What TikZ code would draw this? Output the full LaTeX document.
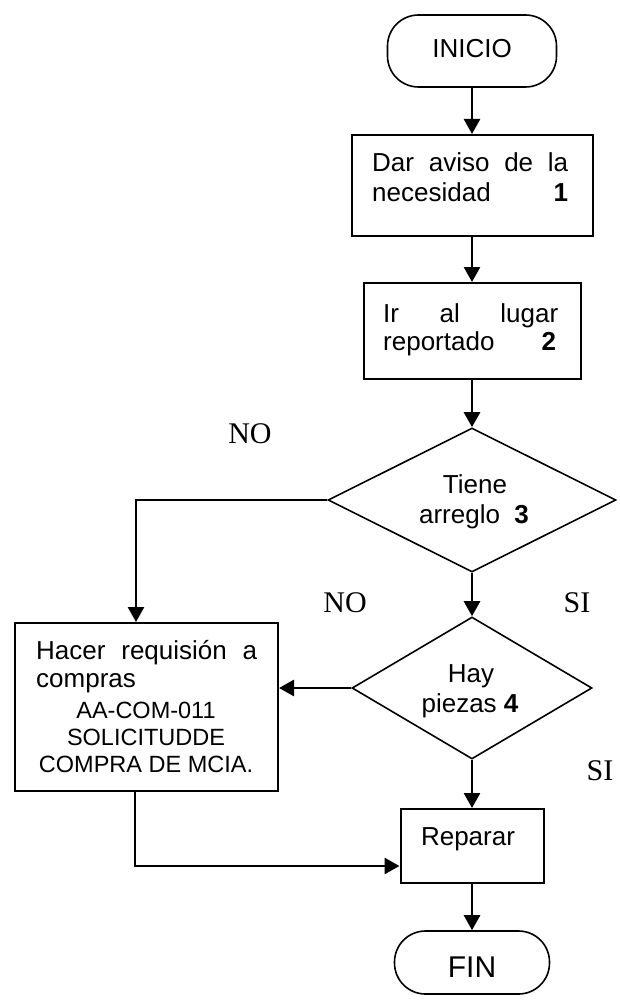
\documentclass[tikz,border=0pt]{standalone}
\usepackage{fontspec}
\setmainfont{Liberation Sans}
\newfontfamily\timesf{Liberation Serif}
\usetikzlibrary{shapes.geometric,arrows.meta}
\begin{document}
\begin{tikzpicture}[x=1pt,y=-1pt,
  box/.style={draw,line width=2pt,inner sep=0pt,minimum width=#1},
  term/.style={draw,line width=1.6pt,rounded corners=31pt,inner sep=0pt},
  dia/.style={draw,diamond,line width=1.6pt,inner sep=0pt},
  flow/.style={line width=2.6pt,-{Triangle[length=15pt,width=16pt]}},
  txt/.style={inner sep=0pt,anchor=base,font=\fontsize{26}{30}\selectfont},
  txtw/.style={inner sep=0pt,anchor=base west,font=\fontsize{26}{30}\selectfont},
  code/.style={inner sep=0pt,anchor=base,font=\fontsize{23.5}{28}\selectfont},
  lab/.style={inner sep=0pt,anchor=base,font=\timesf\fontsize{30}{34}\selectfont}]
\useasboundingbox (0,0) rectangle (620,1000);
\fill[white] (0,0) rectangle (620,1000);

% shapes
\node[term,minimum width=169pt,minimum height=72pt] (ini) at (472,51) {};
\node[box=241pt,minimum height=101pt] (b1) at (472,185.5) {};
\node[box=217pt,minimum height=96pt] (b2) at (472,331) {};
\node[dia,minimum width=288pt,minimum height=144pt] (d1) at (472,500) {};
\node[dia,minimum width=240pt,minimum height=142pt] (d2) at (472,688) {};
\node[box=263pt,minimum height=168pt] (req) at (146.5,707) {};
\node[box=143pt,minimum height=74pt] (rep) at (472,846) {};
\node[term,minimum width=155pt,minimum height=63pt] (fin) at (472,962.5) {};

% texts
\node[txt] (tini) at (472,58) {INICIO};
\node[txtw] (t1a) at (372,172) {\makebox[196pt][s]{Dar aviso de la}};
\node[txtw] (t1b) at (372,202) {\makebox[196pt][s]{necesidad\hfill\textbf{1}}};
\node[txtw] (t2a) at (383,322) {\makebox[175pt][s]{Ir al lugar}};
\node[txtw] (t2b) at (383,350) {\makebox[173pt][s]{reportado\hfill\textbf{2}}};
\node[txt] (t3a) at (475,493) {Tiene};
\node[txt] (t3b) at (474,523) {arreglo\ \ \textbf{3}};
\node[txt] (t4a) at (471,682) {Hay};
\node[txt] (t4b) at (470,712) {piezas \textbf{4}};
\node[txtw] (tra) at (36,659) {\makebox[221pt][s]{Hacer requisión a}};
\node[txtw] (trb) at (36,687) {compras};
\node[code] (trc) at (146,718) {AA-COM-011};
\node[code] (trd) at (146,745) {SOLICITUDDE};
\node[code] (tre) at (146,772) {COMPRA DE MCIA.};
\node[txt] (trep) at (468,845) {Reparar};
\node[txt,font=\fontsize{30}{34}\selectfont] (tfin) at (472,977) {FIN};

% labels
\node[lab] (no1) at (250,443) {NO};
\node[lab] (no2) at (345,612) {NO};
\node[lab] (si1) at (577,612) {SI};
\node[lab] (si2) at (600,780) {SI};

% connectors
\coordinate (c1) at (136,500);
\coordinate (c2) at (135,866);
\draw[flow] (ini.south) -- (b1.north);
\draw[flow] (b1.south) -- (b2.north);
\draw[flow] (b2.south) -- (d1.north);
\draw[flow] (d1.west) -- (c1) -- (c1 |- req.north);
\draw[flow] (d1.south) -- (d2.north);
\draw[flow] (d2.west) -- (d2.west -| req.east);
\draw[flow] (d2.south) -- (rep.north);
\draw[flow] (c2 |- req.south) -- (c2) -- (c2 -| rep.west);
\draw[flow] (rep.south) -- (fin.north);
\end{tikzpicture}
\end{document}
